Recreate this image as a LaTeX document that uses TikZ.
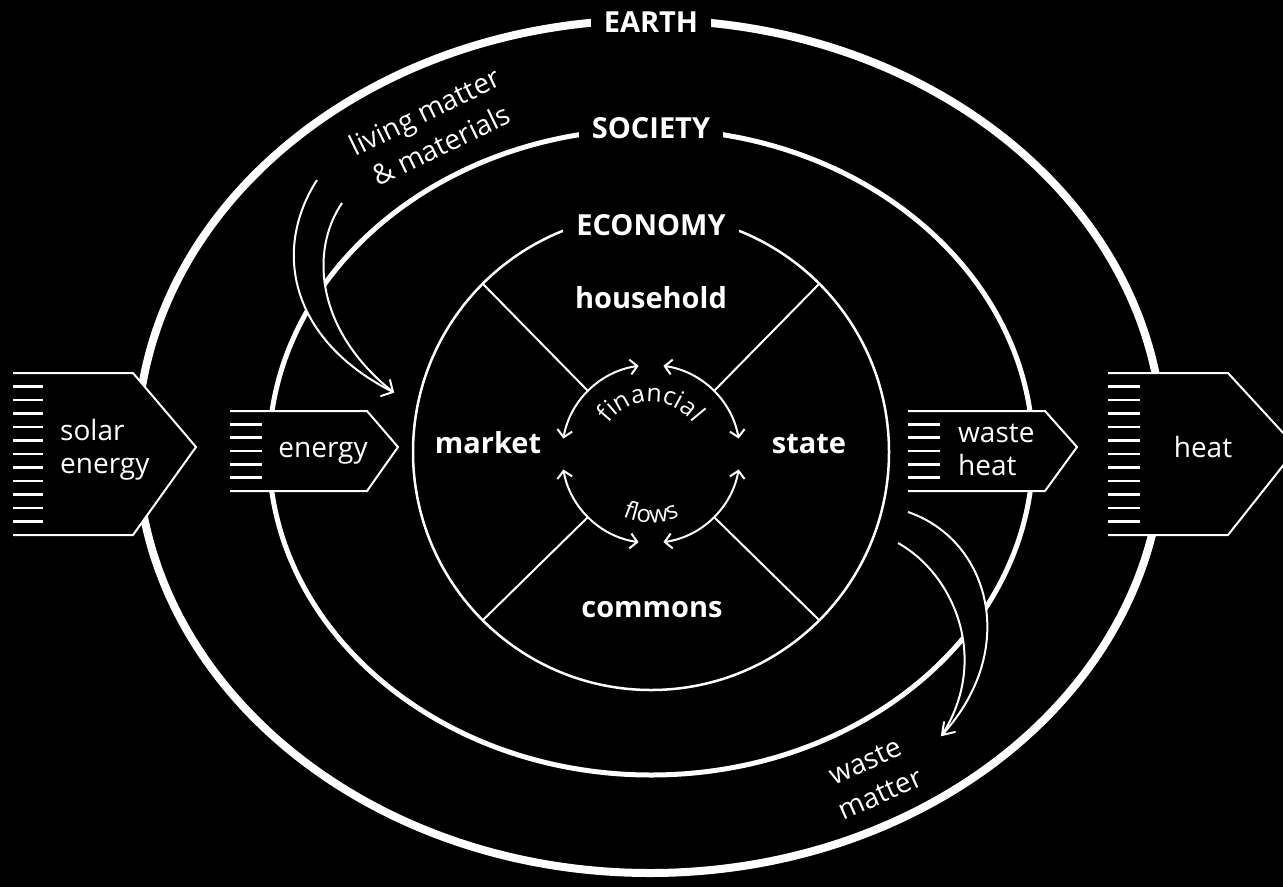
\documentclass[tikz,border=0pt]{standalone}
\usepackage{fontspec}
\setmainfont{Open Sans}
\usetikzlibrary{arrows.meta,calc,decorations.text}
\newcommand\mainsz{\fontsize{28}{34}\selectfont}
\newcommand\boldsz{\fontsize{29}{34}\selectfont}
\begin{document}
\begin{tikzpicture}[x=1pt,y=-1pt,
  earthline/.style={draw=white,line width=8pt},
  socline/.style={draw=white,line width=5pt},
  econline/.style={draw=white,line width=2.5pt},
  thinline/.style={draw=white,line width=2pt},
  boxline/.style={draw=white,line width=2pt,line join=miter},
  stripe/.style={draw=white,line width=2.5pt},
  flow/.style={draw=white,line width=2pt,{Straight Barb[length=7pt,width=15pt]}-{Straight Barb[length=7pt,width=15pt]}},
  ringlabel/.style={fill=black,text=white,font=\boldsz\bfseries,inner xsep=13pt,inner ysep=4pt,anchor=base},
  sector/.style={text=white,font=\boldsz\bfseries,anchor=base,inner sep=0pt},
  plain/.style={text=white,font=\mainsz,inner sep=0pt},
  curvy/.style={decorate,decoration={text along path,text align=center,text color=white,text={#1}}}
]
% canvas
\fill[black] (0,0) rectangle (1283,887);
\useasboundingbox (0,0) rectangle (1283,887);
\clip (0,0) rectangle (1283,887);

\coordinate (earthc) at (650,446.5);
\coordinate (socc) at (651,452);
\coordinate (ec) at (651,452);
\coordinate (ic) at (651,454);

% rings
\draw[earthline] (earthc) ellipse [x radius=513pt, y radius=426.5pt];
\draw[socline] (socc) ellipse [x radius=382pt, y radius=323pt];
\draw[econline] (ec) circle [radius=238pt];

\node[ringlabel] (earth) at (651,32) {EARTH};
\node[ringlabel] (society) at (651,138) {SOCIETY};
\node[ringlabel] (economy) at (651,235) {ECONOMY};

% economy sectors
\foreach \a in {45,135,225,315}
  \draw[thinline] ($(ic)+(\a:89pt)$) -- ($(ec)+(\a:238pt)$);

\node[sector] (household) at (651,308) {household};
\node[sector] (market) at (488,453) {market};
\node[sector] (state) at (809,453) {state};
\node[sector] (commons) at (652,617) {commons};

% financial flows ring
\draw[flow] ($(ic)+(170:89pt)$) arc[start angle=170,end angle=98,radius=89pt];
\draw[flow] ($(ic)+(82:89pt)$) arc[start angle=82,end angle=10,radius=89pt];
\draw[flow] ($(ic)+(-10:89pt)$) arc[start angle=-10,end angle=-82,radius=89pt];
\draw[flow] ($(ic)+(190:89pt)$) arc[start angle=190,end angle=262,radius=89pt];

\path[curvy={|\fontsize{25}{29}\selectfont|financial}] ($(ic)+(160:52pt)$) arc[start angle=160,end angle=20,radius=52pt];
\path[curvy={|\fontsize{24}{28}\selectfont|flows}] ($(ic)+(220:69pt)$) arc[start angle=220,end angle=320,radius=69pt];

% solar energy
\fill[black] (13,373) -- (133,373) -- (196,447) -- (133,535) -- (13,535) -- cycle;
\draw[boxline] (13,373) -- (133,373) -- (196,447) -- (133,535) -- (13,535);
\foreach \k in {1,...,11} \draw[stripe] (13,{373+13.5*\k}) -- (43,{373+13.5*\k});
\node[plain,anchor=base west] (solar1) at (60,440) {solar};
\node[plain,anchor=base west] (solar2) at (60,473) {energy};

% energy
\fill[black] (230,411) -- (367,411) -- (398,447) -- (367,491) -- (230,491) -- cycle;
\draw[boxline] (230,411) -- (367,411) -- (398,447) -- (367,491) -- (230,491);
\foreach \k in {1,...,5} \draw[stripe] (230,{411+13.33*\k}) -- (262,{411+13.33*\k});
\node[plain,anchor=base] (energy) at (323,457) {energy};

% waste heat
\fill[black] (908,411) -- (1045,411) -- (1077,447) -- (1045,491) -- (908,491) -- cycle;
\draw[boxline] (908,411) -- (1045,411) -- (1077,447) -- (1045,491) -- (908,491);
\foreach \k in {1,...,5} \draw[stripe] (908,{411+13.33*\k}) -- (940,{411+13.33*\k});
\node[plain,anchor=base west] (wh1) at (958,442) {waste};
\node[plain,anchor=base west] (wh2) at (958,475) {heat};

% heat
\fill[black] (1108,373) -- (1228,373) -- (1297,448) -- (1228,535) -- (1108,535) -- cycle;
\draw[boxline] (1108,373) -- (1228,373) -- (1297,448) -- (1228,535) -- (1108,535);
\foreach \k in {1,...,11} \draw[stripe] (1108,{373+13.5*\k}) -- (1140,{373+13.5*\k});
\node[plain,anchor=base] (heat) at (1203,457) {heat};

% living matter & materials inflow
\coordinate (lmA) at (317,180);
\coordinate (lmB) at (342,203);
\coordinate (lmT) at (393,392);
\fill[black] (lmA) .. controls (272,250) and (290,340) .. (lmT) .. controls (315,330) and (310,250) .. (lmB) -- cycle;
\draw[thinline] (lmA) .. controls (272,250) and (290,340) .. (lmT);
\draw[thinline] (lmB) .. controls (310,250) and (315,330) .. (lmT);
\draw[thinline,line cap=round] (390,380) -- (lmT) -- (381,396);
\node[plain,rotate=26,align=center,font=\fontsize{28}{37}\selectfont] (living) at (433,128) {living matter\\\& materials};

% waste matter outflow
\coordinate (wmA) at (908,512);
\coordinate (wmB) at (898,543);
\coordinate (wmT) at (942,735);
\fill[black] (wmA) .. controls (990,540) and (1020,650) .. (wmT) .. controls (990,660) and (955,575) .. (wmB) -- cycle;
\draw[thinline] (wmA) .. controls (990,540) and (1020,650) .. (wmT);
\draw[thinline] (wmB) .. controls (955,575) and (990,660) .. (wmT);
\draw[thinline,line cap=round] (944,722) -- (wmT) -- (955,732);
\node[plain,rotate=24,align=center,font=\fontsize{28}{36}\selectfont] (wastem) at (873,778) {waste\\matter};
\end{tikzpicture}
\end{document}
